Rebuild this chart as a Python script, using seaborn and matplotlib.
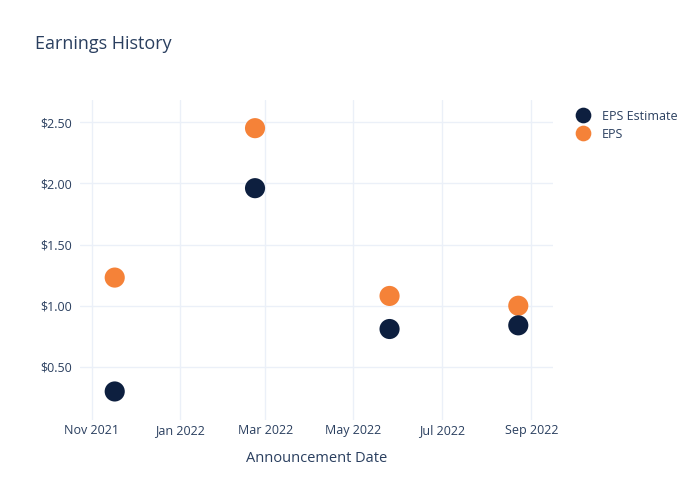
import matplotlib
matplotlib.use("Agg")
import matplotlib.pyplot as plt
import matplotlib.dates as mdates
import seaborn as sns
import pandas as pd
import numpy as np

dates = ["2021-11-17", "2022-02-22", "2022-05-26", "2022-08-23"]
eps_estimate = [0.30, 1.96, 0.81, 0.84]
eps_actual = [1.23, 2.45, 1.08, 1.00]
series_names = ["EPS Estimate", "EPS"]
y_ticks = [0.5, 1.0, 1.5, 2.0, 2.5]

sns.set_theme(style="white")
plt.rcParams['font.family'] = ['Open Sans', 'DejaVu Sans']

text_color = "#2a3f5f"
grid_color = "#ebf0f8"
colors = {"EPS Estimate": "#0d1f3f", "EPS": "#f58238"}

# EPS rows first so Estimate markers are drawn on top
df = pd.DataFrame({
    "date": pd.to_datetime(dates + dates),
    "value": eps_actual + eps_estimate,
    "series": ["EPS"] * len(dates) + ["EPS Estimate"] * len(dates),
})

fig = plt.figure(figsize=(7, 5), dpi=100)
ax = fig.add_axes([80 / 700, 80 / 500, 473 / 700, 320 / 500])

sns.scatterplot(data=df, x="date", y="value", hue="series", hue_order=series_names,
                palette=colors, s=210, linewidth=0, ax=ax, zorder=3)

ax.set_xlim(pd.Timestamp("2021-10-24"), pd.Timestamp("2022-09-16"))
ax.set_ylim(0.067, 2.68)
ax.set_yticks(y_ticks)
ax.set_yticklabels([f"${v:.2f}" for v in y_ticks])
ax.xaxis.set_major_locator(mdates.MonthLocator(bymonth=[1, 3, 5, 7, 9, 11]))
ax.xaxis.set_major_formatter(mdates.DateFormatter("%b %Y"))

ax.grid(True, color=grid_color, linewidth=1)
ax.set_axisbelow(True)
for sp in ax.spines.values():
    sp.set_visible(False)
ax.tick_params(axis="both", length=0, labelsize=9, colors=text_color)
ax.tick_params(axis="x", pad=3)
ax.tick_params(axis="y", pad=6)
ax.set_xlabel("Announcement Date", fontsize=10.5, color=text_color, labelpad=10)
ax.set_ylabel("")

handles, labels = ax.get_legend_handles_labels()
leg = ax.legend(handles=handles, labels=labels, loc="upper left",
                bbox_to_anchor=(1.027, 0.985), frameon=False, fontsize=9,
                labelcolor=text_color, handletextpad=0.5, markerscale=0.78,
                labelspacing=0.4, borderaxespad=0)

fig.text(35 / 700, 1 - 44 / 500, "Earnings History", fontsize=13, color=text_color,
         va="center", ha="left")

fig.savefig("out.png", dpi=100, facecolor="white")
